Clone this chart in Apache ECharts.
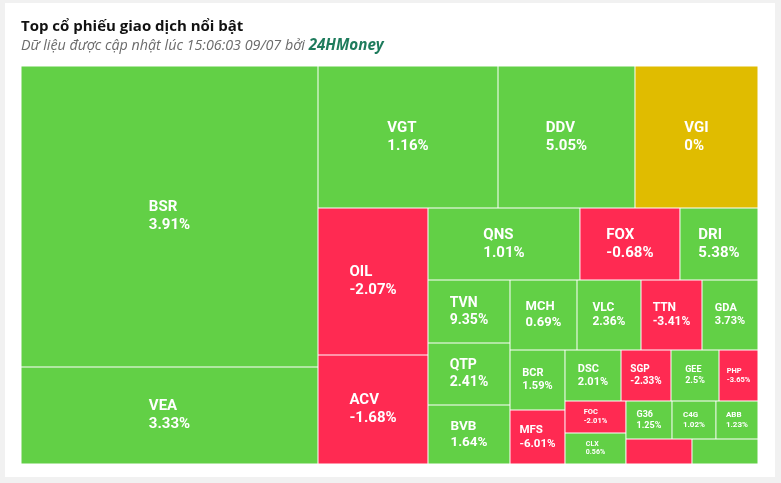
<!DOCTYPE html>
<html>
<head>
<meta charset="utf-8">
<script src="https://cdn.jsdelivr.net/npm/echarts@6/dist/echarts.min.js"></script>
<style>
html,body{margin:0;padding:0;background:#f1f1f1;width:781px;height:483px;overflow:hidden;}
#card{position:absolute;left:5px;top:3px;width:770px;height:474px;background:#fff;}
#chart{position:absolute;left:0;top:0;width:781px;height:483px;}
</style>
</head>
<body>
<div id="card"></div>
<div id="chart"></div>
<script>
// ---- data ----
const tickers = ['BSR','VEA','VGT','DDV','VGI','OIL','ACV','QNS','FOX','DRI',
                 'TVN','QTP','BVB','MCH','VLC','TTN','GDA','BCR','MFS','DSC',
                 'SGP','GEE','PHP','FOC','CLX','G36','C4G','ABB','',''];
// traded value (estimated from the tile areas)
const values = [89.40, 28.81, 25.56, 19.45, 17.47, 16.17, 11.99, 10.94, 7.20, 5.62,
                5.17, 5.08, 4.84, 4.69, 4.48, 4.27, 3.92, 3.30, 2.97, 2.86,
                2.55, 2.45, 1.99, 1.95, 1.89, 1.75, 1.67, 1.60, 1.65, 1.65];
// % change (null = not labelled in the picture)
const changes = [3.91, 3.33, 1.16, 5.05, 0, -2.07, -1.68, 1.01, -0.68, 5.38,
                 9.35, 2.41, 1.64, 0.69, 2.36, -3.41, 3.73, 1.59, -6.01, 2.01,
                 -2.33, 2.5, -3.65, -2.01, 0.56, 1.25, 1.02, 1.23, null, null];
// direction shown by tile colour
const trend = [1, 1, 1, 1, 0, -1, -1, 1, -1, 1,
               1, 1, 1, 1, 1, -1, 1, 1, -1, 1,
               -1, 1, -1, -1, 1, 1, 1, 1, -1, 1];

// grouping of tiles (indices into the arrays): S = side-by-side sequence, T = stacked pair
function S() { return { cut: 'split', parts: Array.prototype.slice.call(arguments) }; }
function T() { return { cut: 'stack', parts: Array.prototype.slice.call(arguments) }; }
const g9 = T(S(25, 26, 27), S(28, 29));
const g8 = S(S(23, 24), g9);
const g7 = T(S(19, 20, 21, 22), g8);
const g6 = S(S(17, 18), g7);
const g5 = T(S(13, 14, 15, 16), g6);
const g4 = S(S(10, 11, 12), g5);
const g3 = T(S(7, 8, 9), g4);
const g2 = S(S(5, 6), g3);
const g1 = T(S(2, 3, 4), g2);
const layoutTree = S(S(0, 1), g1);

// ---- styles ----
const GREEN = '#62d046', RED = '#ff2a52', YELLOW = '#e0bc00';
const LABEL_FONT = 'Roboto';
const labelSize = {BSR:15, VEA:15, VGT:15, DDV:15, VGI:15, OIL:15, ACV:15, QNS:15, FOX:15, DRI:15,
  TVN:14, QTP:14, BVB:13.5, MCH:13, VLC:12, TTN:12, GDA:11, BCR:11, MFS:11.5, DSC:11,
  SGP:10, GEE:9, PHP:7.5, FOC:7.5, CLX:7, G36:9, C4G:8, ABB:8};

const mctx = document.createElement('canvas').getContext('2d');
function textWidth(t, fs) { mctx.font = 'bold ' + fs + 'px ' + LABEL_FONT; return mctx.measureText(t).width; }

function leaf(i, boxes) {
  const color = trend[i] > 0 ? GREEN : (trend[i] < 0 ? RED : YELLOW);
  const item = { name: tickers[i], value: values[i], itemStyle: { color: color, borderWidth: 0.5 } };
  if (changes[i] === null) {
    item.label = { show: false };
    return item;
  }
  const fs = labelSize[tickers[i]] || 10;
  const lh = Math.round(fs * 1.2);
  const line2 = changes[i] + '%';
  const lab = {
    show: true,
    formatter: '{n|' + tickers[i] + '}\n{n|' + line2 + '}',
    rich: { n: { fontSize: fs, lineHeight: lh, fontWeight: 'bold',
                 fontFamily: LABEL_FONT, color: '#fff', align: 'left' } }
  };
  const b = boxes && boxes[tickers[i]];
  if (b) {
    // centre the (left-aligned) two-line block inside the tile the library laid out
    const w = b.width - 1, h = b.height - 1;
    const blockW = Math.max(textWidth(tickers[i], fs), textWidth(line2, fs));
    lab.padding = [Math.max(0, (h - 2 * lh) / 2), 0, 0, Math.max(0, (w - blockW) / 2)];
  }
  item.label = lab;
  return item;
}
function separator() {
  return { name: '', value: 1e-9, itemStyle: { color: 'rgba(0,0,0,0)', borderWidth: 0 }, label: { show: false } };
}
function build(node, boxes) {
  if (typeof node === 'number') return leaf(node, boxes);
  const kids = node.parts.map(function (p) { return build(p, boxes); });
  let children = kids;
  if (node.cut === 'split') {
    children = [];
    kids.forEach(function (k, j) { if (j) children.push(separator()); children.push(k); });
  }
  return { name: '', children: children, itemStyle: { borderWidth: 0, gapWidth: 0 } };
}

function makeOption(boxes) {
  return {
    animation: false,
    title: {
      left: 21, top: 19, padding: 0, itemGap: 4,
      text: 'Top cổ phiếu giao dịch nổi bật',
      textStyle: { fontSize: 15, fontWeight: 'bold', color: '#111', fontFamily: 'Open Sans' },
      subtext: '{a|Dữ liệu được cập nhật lúc 15:06:03 09/07 bởi }{b|24HMoney}',
      subtextStyle: {
        rich: {
          a: { fontSize: 14.3, fontStyle: 'italic', color: '#6b6b6b', fontFamily: 'Open Sans' },
          b: { fontSize: 15.2, fontStyle: 'italic', fontWeight: 'bold', color: '#1e7b5c', fontFamily: 'Open Sans' }
        }
      }
    },
    series: [{
      type: 'treemap',
      left: 21, top: 66, width: 737, height: 398,
      roam: false, nodeClick: false,
      breadcrumb: { show: false },
      sort: false,
      squareRatio: 4,
      itemStyle: { borderWidth: 0, gapWidth: 0, borderColor: '#fff' },
      label: { show: true, position: 'inside', padding: 0, color: '#fff' },
      upperLabel: { show: false },
      emphasis: { disabled: true },
      data: build(layoutTree, boxes).children
    }]
  };
}

const chart = echarts.init(document.getElementById('chart'), null, { renderer: 'canvas' });
chart.setOption(makeOption(null));
// read back the tile sizes computed by the treemap layout, then centre the labels
const boxes = {};
try {
  const data = chart.getModel().getSeriesByIndex(0).getData();
  for (let k = 0; k < data.count(); k++) {
    const nm = data.getName(k);
    const lay = data.getItemLayout(k);
    if (nm && lay) boxes[nm] = lay;
  }
} catch (e) {}
chart.setOption(makeOption(boxes), true);
</script>
</body>
</html>
